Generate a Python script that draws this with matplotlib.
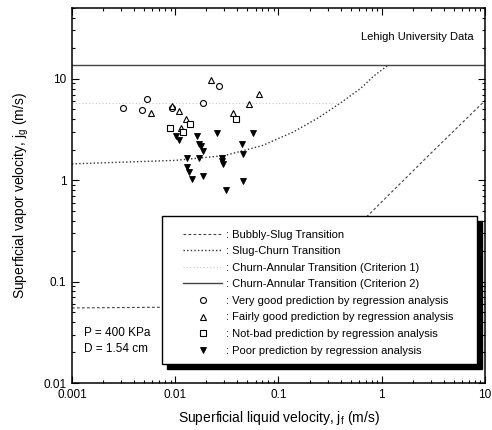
import matplotlib
matplotlib.use('Agg')
import matplotlib.pyplot as plt
from matplotlib.patches import Rectangle

plt.rcParams['font.family'] = ['Liberation Sans', 'DejaVu Sans']
plt.rcParams['mathtext.fontset'] = 'custom'
plt.rcParams['mathtext.rm'] = 'Liberation Sans'
plt.rcParams['mathtext.it'] = 'Liberation Sans'

# Lehigh data, P = 400 kPa, D = 1.54 cm
very_good_jf = [0.0031, 0.00473, 0.00536, 0.0187, 0.0267, 0.00925]
very_good_jg = [5.20, 4.97, 6.38, 5.78, 8.44, 5.2]

fair_jf = [0.00578, 0.00925, 0.01086, 0.01262, 0.0113, 0.0220, 0.0365, 0.0514, 0.0647]
fair_jg = [4.60, 5.35, 4.82, 4.05, 3.25, 9.67, 4.60, 5.61, 7.03]

notbad_jf = [0.0089, 0.0139, 0.0118, 0.0387]
notbad_jg = [3.25, 3.56, 2.99, 4.05]

poor_jf = [0.0102, 0.0109, 0.0161, 0.0171, 0.0176, 0.0184, 0.0255, 0.0129, 0.0171,
           0.0131, 0.0137, 0.0144, 0.0184, 0.0286, 0.0288, 0.0282, 0.0310, 0.0441,
           0.0456, 0.0456, 0.0570]
poor_jg = [2.71, 2.52, 2.71, 2.30, 2.16, 1.94, 2.92, 1.67, 1.64,
           1.35, 1.21, 1.04, 1.09, 1.67, 1.46, 1.55, 0.81, 2.30,
           1.80, 0.98, 2.92]

# transition boundaries
bs_jf = [0.001, 0.01, 0.05, 0.1, 0.2, 0.4, 0.77, 1.5, 3.0, 10.0]
bs_jg = [0.055, 0.056, 0.062, 0.075, 0.13, 0.25, 0.47, 0.92, 1.85, 6.1]

sc_jf = [0.001, 0.01, 0.03, 0.07, 0.14, 0.25, 0.4, 0.62, 0.85, 1.15]
sc_jg = [1.45, 1.57, 1.75, 2.2, 3.0, 4.2, 5.8, 8.0, 10.8, 13.6]

ca1_jf = [0.001, 0.39]
ca1_jg = [5.8, 5.8]

ca2_jf = [0.001, 10.0]
ca2_jg = [13.6, 13.6]

labels = [': Bubbly-Slug Transition',
          ': Slug-Churn Transition',
          ': Churn-Annular Transition (Criterion 1)',
          ': Churn-Annular Transition (Criterion 2)',
          ': Very good prediction by regression analysis',
          ': Fairly good prediction by regression analysis',
          ': Not-bad prediction by regression analysis',
          ': Poor prediction by regression analysis']

fig = plt.figure(figsize=(4.92, 4.30), dpi=100)
ax = fig.add_axes([0.1463, 0.1093, 0.8394, 0.8721])

h_bs, = ax.plot(bs_jf, bs_jg, color='#444444', lw=0.8, ls=(0, (2.5, 2)))
h_sc, = ax.plot(sc_jf, sc_jg, color='#333333', lw=1.0, ls=(0, (1, 1.6)))
h_c1, = ax.plot(ca1_jf, ca1_jg, color='#c8c8c8', lw=0.8, ls=(0, (1, 2)))
h_c2, = ax.plot(ca2_jf, ca2_jg, color='#444444', lw=1.0, ls='-')

h_vg, = ax.plot(very_good_jf, very_good_jg, 'o', ms=4.3, mfc='white', mec='black', mew=0.8, ls='none')
h_fg, = ax.plot(fair_jf, fair_jg, '^', ms=4.8, mfc='white', mec='black', mew=0.8, ls='none')
h_nb, = ax.plot(notbad_jf, notbad_jg, 's', ms=4.2, mfc='white', mec='black', mew=0.8, ls='none')
h_pr, = ax.plot(poor_jf, poor_jg, 'v', ms=4.8, mfc='black', mec='black', mew=0.6, ls='none')

ax.set_xscale('log')
ax.set_yscale('log')
ax.set_xlim(0.001, 10)
ax.set_ylim(0.01, 50)
ax.set_xticks([0.001, 0.01, 0.1, 1, 10])
ax.set_xticklabels(['0.001', '0.01', '0.1', '1', '10'])
ax.set_yticks([0.01, 0.1, 1, 10])
ax.set_yticklabels(['0.01', '0.1', '1', '10'])
ax.tick_params(which='both', direction='in', top=True, right=True, labelsize=8.5, width=0.8)
ax.tick_params(which='major', length=5, pad=4)
ax.tick_params(which='minor', length=2.5)
for s in ax.spines.values():
    s.set_linewidth(1.1)

ax.set_xlabel('Superficial liquid velocity, j$_f$ (m/s)', fontsize=10, labelpad=6)
ax.set_ylabel('Superficial vapor velocity, j$_g$ (m/s)', fontsize=10, labelpad=9)

ax.text(0.973, 0.923, 'Lehigh University Data', transform=ax.transAxes,
        ha='right', va='center', fontsize=8)
ax.text(0.029, 0.133, 'P = 400 KPa', transform=ax.transAxes, ha='left', va='center', fontsize=8.5)
ax.text(0.029, 0.091, 'D = 1.54 cm', transform=ax.transAxes, ha='left', va='center', fontsize=8.5)

# legend box with heavy drop shadow
ax.add_patch(Rectangle((0.230, 0.038), 0.763, 0.394, transform=ax.transAxes,
                       facecolor='black', edgecolor='black', zorder=5))
ax.add_patch(Rectangle((0.218, 0.051), 0.763, 0.394, transform=ax.transAxes,
                       facecolor='white', edgecolor='black', lw=1.0, zorder=6))

handles = [h_bs, h_sc, h_c1, h_c2, h_vg, h_fg, h_nb, h_pr]
leg = ax.legend(handles, labels, loc='upper left', bbox_to_anchor=(0.269, 0.409),
                frameon=False, fontsize=8, handlelength=3.5, handletextpad=0.35,
                labelspacing=0.59, borderpad=0, borderaxespad=0, numpoints=1)
leg.set_zorder(7)

fig.savefig('out.png', dpi=100)
